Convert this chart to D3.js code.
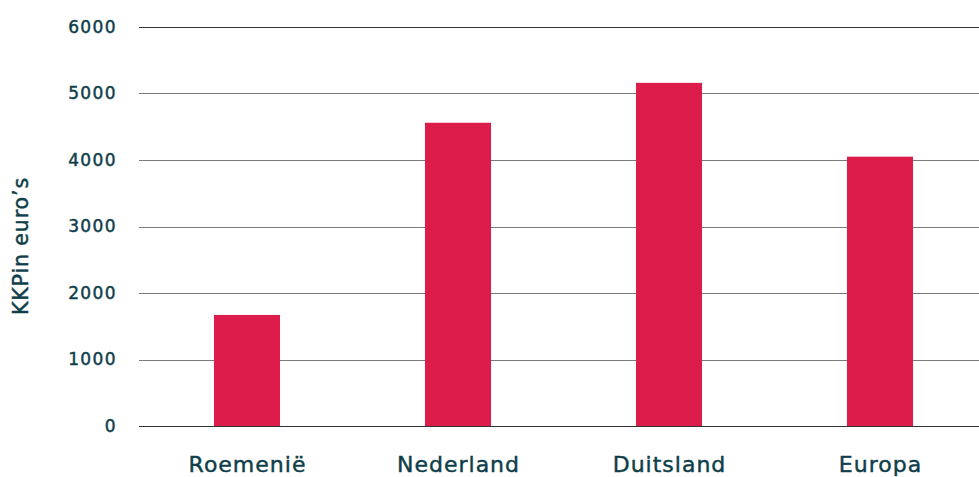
<!DOCTYPE html>
<html><head><meta charset="utf-8">
<script src="https://cdn.jsdelivr.net/npm/d3@7"></script>
<style>body{margin:0;background:#fff}svg{display:block}text{font-family:"DejaVu Sans",sans-serif;fill:#0f3e4a;stroke:#0f3e4a;stroke-width:0.45px}</style>
</head><body><svg id="c" width="979" height="477"></svg>
<script>
const categories = ["Roemenië", "Nederland", "Duitsland", "Europa"];
const values = [1670, 4560, 5160, 4050];
const yTicks = [0, 1000, 2000, 3000, 4000, 5000, 6000];
const yTitle = "KKPin euro’s";

const svg = d3.select("#c");
const x = d3.scaleBand().domain(categories).range([141.5, 985.5]).paddingInner(0.687).paddingOuter(0.3435);
const y = d3.scaleLinear().domain([0, 6000]).range([426, 27]);

const grid = svg.append("g");
grid.selectAll("line").data(yTicks).join("line")
  .attr("x1", 139).attr("x2", 979)
  .attr("y1", d => Math.round(y(d)) + 0.5).attr("y2", d => Math.round(y(d)) + 0.5)
  .attr("stroke", d => (d === 0 || d === 6000) ? "#333" : "#7a7a7a").attr("stroke-width", 1.2);

svg.append("g").selectAll("rect").data(values).join("rect")
  .attr("x", (d, i) => x(categories[i]))
  .attr("width", x.bandwidth())
  .attr("y", d => y(d))
  .attr("height", d => y(0) - y(d))
  .attr("fill", "#dc1c4b");

const yAxis = d3.axisLeft(y).tickValues(yTicks).tickFormat(d3.format("d")).tickSize(0).tickPadding(0);
const ya = svg.append("g").attr("transform", "translate(117,0)").call(yAxis);
ya.select(".domain").remove();
ya.selectAll("text").attr("font-size", 17).attr("letter-spacing", 1.4).attr("dy", "0.3em")
  .attr("fill", "#0f3e4a").style("font-family", "'DejaVu Sans',sans-serif");

const xAxis = d3.axisBottom(x).tickSize(0).tickPadding(0);
const xa = svg.append("g").attr("transform", "translate(0,472)").call(xAxis);
xa.select(".domain").remove();
xa.selectAll("text").attr("font-size", 22).attr("letter-spacing", 1).attr("dy", 0).attr("dx", 0.5)
  .attr("fill", "#0f3e4a").style("font-family", "'DejaVu Sans',sans-serif");

svg.append("text").attr("transform", "translate(28,246) rotate(-90)")
  .attr("text-anchor", "middle").attr("font-size", 20.5).attr("letter-spacing", 0.9).text(yTitle);
</script></body></html>
